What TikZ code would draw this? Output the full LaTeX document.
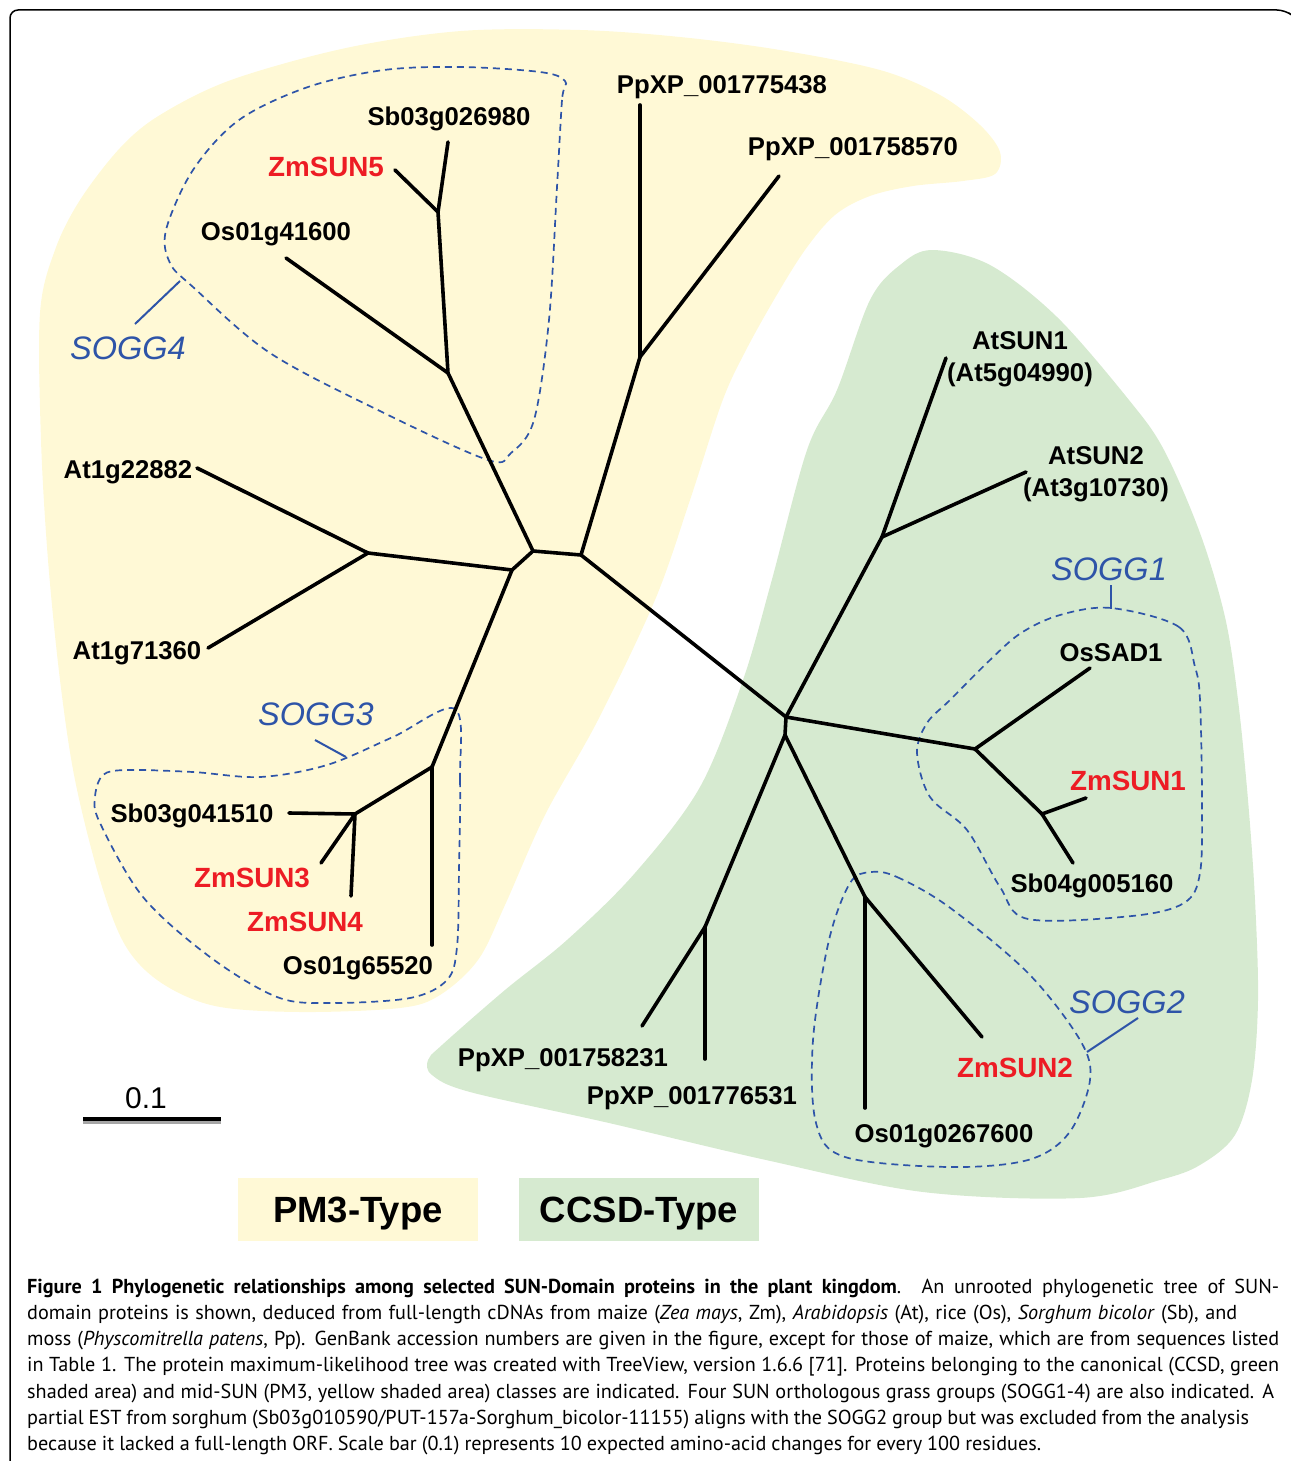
\documentclass[tikz,border=0pt]{standalone}
\usepackage{fontspec}
\setmainfont{Liberation Sans}
\newfontfamily\capfont{PT Sans}
\definecolor{pmyellow}{RGB}{255,249,214}
\definecolor{ccsdgreen}{RGB}{214,234,208}
\definecolor{soggblue}{RGB}{46,84,168}
\definecolor{zmred}{RGB}{237,28,36}
\tikzset{
  branch/.style={line width=3.6, line cap=round, line join=round},
  leaf/.style={anchor=base, inner sep=0pt, align=center,
    font=\fontsize{25.7}{31.5}\selectfont\bfseries},
  zm/.style={leaf, text=zmred, font=\fontsize{27.8}{32}\selectfont\bfseries},
  sogg/.style={anchor=base, inner sep=0pt, text=soggblue,
    font=\fontsize{32.5}{36}\selectfont\itshape},
  grp/.style={draw=soggblue, line width=1.7, dash pattern=on 7pt off 5pt},
  lead/.style={draw=soggblue, line width=2},
  typebox/.style={inner sep=0pt, minimum width=240, minimum height=63,
    text height=26, text depth=0, font=\fontsize{36.5}{40}\selectfont\bfseries},
  capline/.style={anchor=base west, inner sep=0pt,
    font=\capfont\fontsize{20.2}{24}\selectfont}
}
\begin{document}
\begin{tikzpicture}[x=1pt,y=-1pt]
\useasboundingbox (0,0) rectangle (1290,1461);
% frame
\draw[line width=1.5, rounded corners=8] (10,1461) -- (10,10) -- (1285,10) -- (1289,13);
% shaded classes
\fill[pmyellow] plot[smooth cycle, tension=0.55] coordinates {
  (461,31) (580,30) (680,37) (780,50) (880,70) (940,95) (980,125) (1000,152)
  (995,174) (963,181) (913,186) (870,196) (835,215) (805,250) (775,298)
  (745,352) (722,402) (690,500) (655,600) (598,720) (545,815) (505,905)
  (478,960) (440,995) (400,1008) (300,1012) (215,1006) (160,982) (125,945)
  (100,880) (75,780) (60,680) (48,560) (41,440) (40,313) (55,250) (80,200)
  (120,148) (160,115) (231,80) (346,48)};
\fill[ccsdgreen] plot[smooth cycle, tension=0.55] coordinates {
  (932,250) (990,265) (1057,317) (1129,400) (1164,450) (1200,533) (1225,617)
  (1238,700) (1248,800) (1255,900) (1258,1000) (1252,1080) (1235,1135)
  (1200,1165) (1160,1180) (1080,1198) (923,1192) (766,1160) (609,1123)
  (470,1092) (432,1075) (428,1060) (442,1045) (505,990) (567,940) (635,873)
  (700,787) (743,680) (771,583) (807,450) (837,390) (870,300) (900,265)};
% grass groups
\draw[grp] plot[smooth cycle, tension=0.55] coordinates {
  (565,81) (562,100) (557,187) (549,320) (534,420) (511,453) (488,460)
  (384,413) (270,353) (193,287) (170,263) (166,230) (193,170) (239,120)
  (308,87) (384,70) (461,67) (540,72)};
\draw[grp] plot[smooth cycle, tension=0.55] coordinates {
  (455,709) (460,780) (459,870) (457,947) (447,980) (410,998) (330,1003)
  (277,997) (210,957) (143,897) (100,823) (95,797) (103,775) (127,770)
  (193,772) (260,777) (327,765) (393,737)};
\draw[grp] plot[smooth cycle, tension=0.55] coordinates {
  (1111,608) (1179,627) (1195,667) (1200,700) (1202,800) (1200,873)
  (1184,903) (1132,916) (1028,919) (1000,887) (967,830) (930,797) (917,753)
  (927,723) (950,700) (990,660) (1021,633) (1060,615)};
\draw[grp] plot[smooth cycle, tension=0.55] coordinates {
  (871,872) (897,877) (949,907) (1028,973) (1080,1040) (1090,1080)
  (1069,1133) (1028,1160) (949,1167) (845,1157) (816,1123) (813,1040)
  (829,940) (850,883)};
% inner nodes
\coordinate (c1) at (533,551);
\coordinate (c2) at (581,555);
\coordinate (c3) at (512,570);
\coordinate (s4a) at (448,373);
\coordinate (s4b) at (438,212);
\coordinate (atj) at (368,553);
\coordinate (ppj) at (640,357);
\coordinate (s3a) at (432,767);
\coordinate (s3b) at (355,814);
\coordinate (r1) at (786,717);
\coordinate (r2) at (785,735);
\coordinate (atsj) at (882,537);
\coordinate (s1a) at (975,749);
\coordinate (s1b) at (1042,814);
\coordinate (ppj2) at (705,927);
\coordinate (s2a) at (865,897);
% tips
\coordinate (t-sb26980) at (448,142);
\coordinate (t-zm5) at (395,170);
\coordinate (t-os41600) at (286,258);
\coordinate (t-at22882) at (197,468);
\coordinate (t-at71360) at (208,648);
\coordinate (t-pp75438) at (640,105);
\coordinate (t-pp58570) at (779,176);
\coordinate (t-os65520) at (432,945);
\coordinate (t-sb41510) at (289,813);
\coordinate (t-zm3) at (321,863);
\coordinate (t-zm4) at (351,896);
\coordinate (t-atsun1) at (946,358);
\coordinate (t-atsun2) at (1026,472);
\coordinate (t-ossad1) at (1090,668);
\coordinate (t-zm1) at (1086,798);
\coordinate (t-sb05160) at (1073,863);
\coordinate (t-pp58231) at (642,1026);
\coordinate (t-pp76531) at (705,1059);
\coordinate (t-os67600) at (865,1108);
\coordinate (t-zm2) at (982,1037);
% branches
\foreach \a/\b in {c1/c2, c1/c3, c1/s4a, s4a/t-os41600, s4a/s4b, s4b/t-sb26980,
    s4b/t-zm5, c3/atj, atj/t-at22882, atj/t-at71360, c2/ppj, ppj/t-pp75438,
    ppj/t-pp58570, c3/s3a, s3a/t-os65520, s3a/s3b, s3b/t-sb41510, s3b/t-zm3,
    s3b/t-zm4, c2/r1, r1/r2, r1/atsj, atsj/t-atsun1, atsj/t-atsun2, r1/s1a,
    s1a/t-ossad1, s1a/s1b, s1b/t-zm1, s1b/t-sb05160, r2/ppj2, ppj2/t-pp58231,
    ppj2/t-pp76531, r2/s2a, s2a/t-os67600, s2a/t-zm2}
  \draw[branch] (\a) -- (\b);
% labels
\node[leaf] (l-sb26980) at (449,125) {Sb03g026980};
\node[zm] (l-zm5) at (326,176) {ZmSUN5};
\node[leaf] (l-os41600) at (276,240) {Os01g41600};
\node[leaf] (l-at22882) at (128,478) {At1g22882};
\node[leaf] (l-at71360) at (137,659) {At1g71360};
\node[leaf] (l-pp75438) at (722,94) {PpXP\_001775438};
\node[leaf] (l-pp58570) at (853,156) {PpXP\_001758570};
\node[leaf] (l-atsun1) at (1020,381) {AtSUN1\\(At5g04990)};
\node[leaf] (l-atsun2) at (1096,496) {AtSUN2\\(At3g10730)};
\node[leaf] (l-ossad1) at (1111,661) {OsSAD1};
\node[zm] (l-zm1) at (1128,790) {ZmSUN1};
\node[leaf] (l-sb05160) at (1092,892) {Sb04g005160};
\node[zm] (l-zm2) at (1015,1077) {ZmSUN2};
\node[leaf] (l-os67600) at (944,1142) {Os01g0267600};
\node[leaf] (l-pp58231) at (563,1066) {PpXP\_001758231};
\node[leaf] (l-pp76531) at (692,1104) {PpXP\_001776531};
\node[leaf] (l-sb41510) at (192,822) {Sb03g041510};
\node[zm] (l-zm3) at (252,887) {ZmSUN3};
\node[zm] (l-zm4) at (305,931) {ZmSUN4};
\node[leaf] (l-os65520) at (358,974) {Os01g65520};
% group names
\node[sogg] (g1) at (1109,580) {SOGG1};
\node[sogg] (g2) at (1127,1013) {SOGG2};
\node[sogg] (g3) at (316,725) {SOGG3};
\node[sogg] (g4) at (128,359) {SOGG4};
\coordinate (g1a) at (1111,585); \coordinate (g1b) at (1111,609);
\coordinate (g2a) at (1138,1018); \coordinate (g2b) at (1087,1052);
\coordinate (g3a) at (315,740); \coordinate (g3b) at (346,757);
\coordinate (g4a) at (135,324); \coordinate (g4b) at (180,281);
\foreach \g in {g1,g2,g3,g4}
  \draw[lead] (\g a) -- (\g b);
% scale bar
\coordinate (bar1) at (83,1119);
\coordinate (bar2) at (221,1119);
\draw[line width=4, black!35] ([yshift=-3]bar1) -- ([yshift=-3]bar2);
\draw[line width=4] (bar1) -- (bar2);
\node[anchor=base, inner sep=0pt, font=\fontsize{30}{34}\selectfont] (barlab) at (146,1108) {0.1};
% legend
\node[typebox, fill=pmyellow] (pm3) at (358,1209.5) {PM3-Type};
\node[typebox, fill=ccsdgreen] (ccsd) at (639,1209.5) {CCSD-Type};
% caption
\foreach \w/\ln [count=\i from 0] in {
  1252/{\textbf{Figure 1 Phylogenetic relationships among selected SUN-Domain proteins in the plant kingdom}. An unrooted phylogenetic tree of SUN-},
  1210/{domain proteins is shown, deduced from full-length cDNAs from maize (\textit{Zea mays}, Zm), \textit{Arabidopsis} (At), rice (Os), \textit{Sorghum bicolor} (Sb), and},
  1252/{moss (\textit{Physcomitrella patens}, Pp). GenBank accession numbers are given in the figure, except for those of maize, which are from sequences listed},
  1252/{in Table 1. The protein maximum-likelihood tree was created with TreeView, version 1.6.6 [71]. Proteins belonging to the canonical (CCSD, green},
  1247/{shaded area) and mid-SUN (PM3, yellow shaded area) classes are indicated. Four SUN orthologous grass groups (SOGG1-4) are also indicated. A},
  1222/{partial EST from sorghum (Sb03g010590/PUT-157a-Sorghum\_bicolor-11155) aligns with the SOGG2 group but was excluded from the analysis},
  1014/{because it lacked a full-length ORF. Scale bar (0.1) represents 10 expected amino-acid changes for every 100 residues.}}
  \node[capline] (cap\i) at (27,{1293+26.3*\i}) {\makebox[\w pt][s]{\ln}};
\end{tikzpicture}
\end{document}
